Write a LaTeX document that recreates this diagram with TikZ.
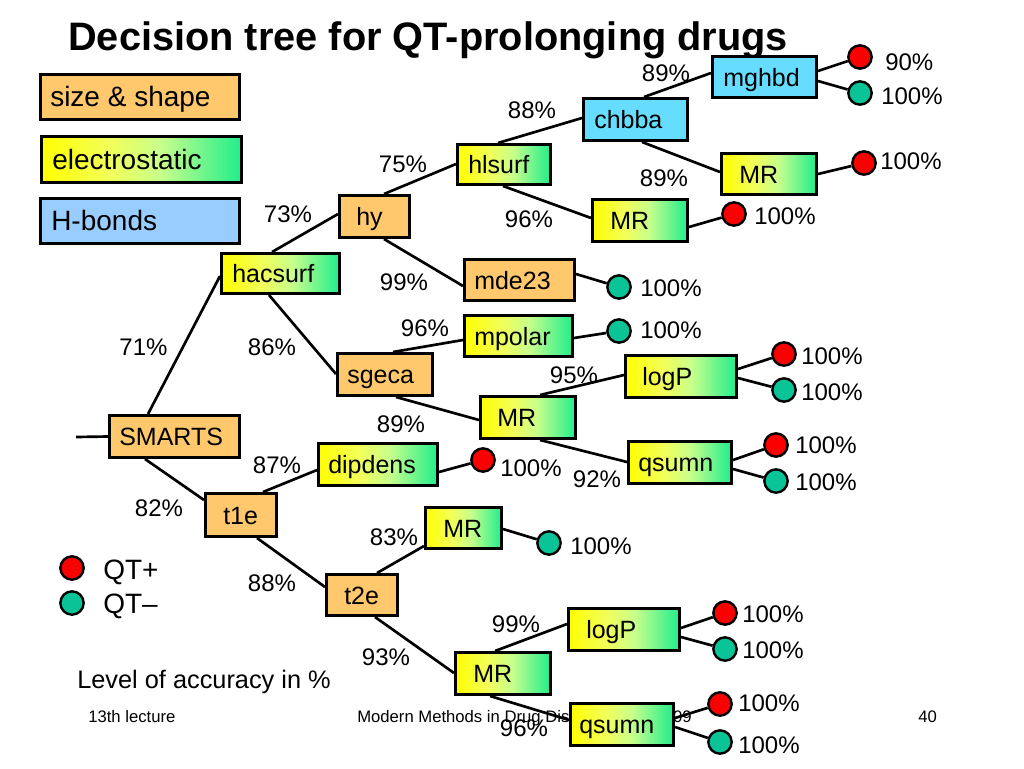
\documentclass[tikz,border=0pt]{standalone}
\usepackage{fontspec}
\setmainfont{Liberation Sans}
\usetikzlibrary{calc}
\definecolor{boxor}{RGB}{255,200,108}
\definecolor{hbond}{RGB}{153,204,255}
\definecolor{cyanb}{RGB}{102,221,255}
\definecolor{qtneg}{RGB}{10,195,150}
\definecolor{qtpos}{RGB}{250,0,0}
\pgfdeclarehorizontalshading{ygr}{100bp}{rgb(0bp)=(1,1,0); rgb(25bp)=(1,1,0); rgb(42bp)=(0.95,1,0.35); rgb(55bp)=(0.78,1,0.55); rgb(75bp)=(0.12,0.93,0.55); rgb(100bp)=(0.12,0.93,0.55)}
\pgfdeclarelayer{bg}
\pgfsetlayers{bg,main}
\tikzset{
  bx/.style={draw=black, line width=2pt, inner sep=0pt},
  org/.style={bx, fill=boxor},
  grd/.style={bx, shade, shading=ygr},
  hbx/.style={bx, fill=hbond},
  cyb/.style={bx, fill=cyanb},
  ntext/.style={inner sep=0pt, font=\fontsize{18.75pt}{21pt}\selectfont},
  ltext/.style={inner sep=0pt, font=\fontsize{21pt}{24pt}\selectfont},
  pct/.style={inner sep=0pt, font=\fontsize{18pt}{20pt}\selectfont},
  foot/.style={inner sep=0pt, anchor=base west, font=\fontsize{12.5pt}{14pt}\selectfont},
  edge/.style={draw=black, line width=2pt},
  circ/.style={circle, draw=black, line width=1.8pt, minimum size=17.5pt, inner sep=0pt},
  qtp/.style={circ, fill=qtpos},
  qtn/.style={circ, fill=qtneg},
}
% style, name, x, y, w, h, pad, text
\newcommand\treebox[8]{%
  \node[#1, minimum width={(#5-2.67)*0.75pt}, minimum height={(#6-2.67)*0.75pt}, anchor=north west] (#2) at (#3,#4) {};
  \node[ntext, anchor=base west] (#2t) at ([shift={(#7,9)}]#2.west) {#8};}
\newcommand\legbox[8]{%
  \node[#1, minimum width={(#5-2.67)*0.75pt}, minimum height={(#6-2.67)*0.75pt}, anchor=north west] (#2) at (#3,#4) {};
  \node[ltext, anchor=base west] (#2t) at ([shift={(#7,9.5)}]#2.west) {#8};}
\newcommand\eln[2]{([shift={#2}]#1.north west)}
\begin{document}
\begin{tikzpicture}[x=0.75pt,y=-0.75pt]
\useasboundingbox (0,0) rectangle (1024,768);

% title
\node[anchor=base west, inner sep=0pt, font=\bfseries\fontsize{29.8pt}{32pt}\selectfont] (title) at (68,50) {Decision tree for QT-prolonging drugs};

% legend boxes
\legbox{org}{lsize}{39}{73}{202}{48}{11}{size \& shape}
\legbox{grd}{lelec}{40}{135}{203}{49}{12}{electrostatic}
\legbox{hbx}{lhb}{39}{197}{202}{48}{12}{H-bonds}

% tree boxes
\treebox{org}{smarts}{108}{414}{133}{45}{11}{SMARTS}
\treebox{grd}{hacsurf}{220}{252}{121}{43}{12}{hacsurf}
\treebox{org}{sgeca}{336}{352}{98}{45}{11}{sgeca}
\treebox{org}{hy}{338}{194}{73}{45}{18}{hy}
\treebox{grd}{hlsurf}{456}{143}{96}{43}{12}{hlsurf}
\treebox{cyb}{chbba}{582}{97}{107}{45}{12}{chbba}
\treebox{cyb}{mghbd}{711}{55}{107}{44}{12}{mghbd}
\treebox{grd}{mra}{720}{152}{98}{44}{19}{MR}
\treebox{grd}{mrb}{591}{198}{98}{45}{19}{MR}
\treebox{org}{mde}{463}{258}{113}{44}{11}{mde23}
\treebox{grd}{mpolar}{463}{314}{111}{44}{11}{mpolar}
\treebox{grd}{mrc}{479}{395}{98}{45}{18}{MR}
\treebox{grd}{logpa}{624}{354}{114}{45}{18}{logP}
\treebox{grd}{qsa}{627}{440}{106}{45}{11}{qsumn}
\treebox{grd}{dipdens}{317}{442}{122}{45}{11}{dipdens}
\treebox{org}{tone}{204}{492}{74}{46}{19}{t1e}
\treebox{org}{ttwo}{325}{573}{74}{44}{19}{t2e}
\treebox{grd}{mrd}{424}{506}{79}{44}{19}{MR}
\treebox{grd}{mre}{454}{651}{98}{45}{19}{MR}
\treebox{grd}{logpb}{567}{607}{114}{45}{19}{logP}
\treebox{grd}{qsb}{569}{702}{106}{45}{10}{qsumn}

% leaves
\node[qtp] (c1) at (860,57) {};
\node[qtn] (c2) at (860,93) {};
\node[qtp] (c3) at (864,163) {};
\node[qtp] (c4) at (734,214) {};
\node[qtn] (c5) at (619,287) {};
\node[qtn] (c6) at (619,331) {};
\node[qtp] (c7) at (784,354) {};
\node[qtn] (c8) at (784,390) {};
\node[qtp] (c9) at (776,445) {};
\node[qtn] (c10) at (776,481) {};
\node[qtp] (c11) at (483,460) {};
\node[qtn] (c12) at (549,543) {};
\node[qtp] (c13) at (725,613) {};
\node[qtn] (c14) at (725,649) {};
\node[qtp] (c15) at (720,704) {};
\node[qtn] (c16) at (720,742) {};

% legend circles
\node[qtp] (lp) at (72,568) {};
\node[qtn] (ln) at (72,603) {};
\node[ltext, anchor=base west] (lpt) at (103,579) {QT+};
\node[ltext, anchor=base west] (lnt) at (103,613) {QT–};
\node[inner sep=0pt, anchor=base west, font=\fontsize{19pt}{21pt}\selectfont] (acc) at (77,688) {Level of accuracy in \%};

\coordinate (in) at (76,437);

\begin{pgfonlayer}{bg}
  \fill[white] (0,0) rectangle (1024,768);
  % footer
  \node[foot] (f1) at (88,722) {13th lecture};
  \node[foot] (f2) at (357,722) {Modern Methods in Drug Discovery WS08/09};
  \node[foot] (f3) at (918,722) {40};
  % connectors
  \draw[edge] (in) -- (smarts.west);
  \draw[edge] \eln{smarts}{(40,0)} -- \eln{hacsurf}{(0,24)};
  \draw[edge] \eln{hacsurf}{(52,0)} -- \eln{hy}{(0,20)};
  \draw[edge] \eln{hy}{(46,0)} -- \eln{hlsurf}{(0,21)};
  \draw[edge] \eln{hlsurf}{(42,0)} -- \eln{chbba}{(0,21)};
  \draw[edge] \eln{chbba}{(62,0)} -- \eln{mghbd}{(0,18)};
  \draw[edge] \eln{chbba}{(60,45)} -- \eln{mra}{(0,20)};
  \draw[edge] \eln{hlsurf}{(47,43)} -- \eln{mrb}{(0,20)};
  \draw[edge] \eln{hy}{(46,45)} -- \eln{mde}{(0,28)};
  \draw[edge] \eln{hacsurf}{(49,43)} -- \eln{sgeca}{(0,22)};
  \draw[edge] \eln{sgeca}{(57,0)} -- \eln{mpolar}{(0,26)};
  \draw[edge] \eln{sgeca}{(60,45)} -- \eln{mrc}{(0,25)};
  \draw[edge] \eln{mrc}{(61,0)} -- \eln{logpa}{(0,21)};
  \draw[edge] \eln{mrc}{(61,45)} -- \eln{qsa}{(0,22)};
  \draw[edge] \eln{smarts}{(37,45)} -- \eln{tone}{(0,8)};
  \draw[edge] \eln{tone}{(59,0)} -- \eln{dipdens}{(0,28)};
  \draw[edge] \eln{tone}{(53,46)} -- \eln{ttwo}{(0,14)};
  \draw[edge] \eln{ttwo}{(52,0)} -- \eln{mrd}{(0,40)};
  \draw[edge] \eln{ttwo}{(50,44)} -- \eln{mre}{(0,22)};
  \draw[edge] \eln{mre}{(41,0)} -- \eln{logpb}{(0,17)};
  \draw[edge] \eln{mre}{(36,45)} -- \eln{qsb}{(0,18)};
  % leaf connectors
  \draw[edge] \eln{mghbd}{(107,16)} -- (c1);
  \draw[edge] \eln{mghbd}{(107,26)} -- (c2);
  \draw[edge] \eln{mra}{(98,22)} -- (c3);
  \draw[edge] \eln{mrb}{(98,29)} -- (c4);
  \draw[edge] \eln{mde}{(113,16)} -- (c5);
  \draw[edge] \eln{mpolar}{(111,24)} -- (c6);
  \draw[edge] \eln{logpa}{(114,15)} -- (c7);
  \draw[edge] \eln{logpa}{(114,24)} -- (c8);
  \draw[edge] \eln{qsa}{(106,20)} -- (c9);
  \draw[edge] \eln{qsa}{(106,29)} -- (c10);
  \draw[edge] \eln{dipdens}{(122,30)} -- (c11);
  \draw[edge] \eln{mrd}{(79,23)} -- (c12);
  \draw[edge] \eln{logpb}{(114,21)} -- (c13);
  \draw[edge] \eln{logpb}{(114,30)} -- (c14);
  \draw[edge] \eln{qsb}{(106,16)} -- (c15);
  \draw[edge] \eln{qsb}{(106,25)} -- (c16);
\end{pgfonlayer}

% edge labels
\node[pct] (p71) at (143.5,347) {71\%};
\node[pct] (p86) at (272,347) {86\%};
\node[pct] (p96a) at (425,328) {96\%};
\node[pct] (p89a) at (401,424) {89\%};
\node[pct] (p87) at (277,465) {87\%};
\node[pct] (p82) at (159,508) {82\%};
\node[pct] (p73) at (288,214) {73\%};
\node[pct] (p75) at (403,164) {75\%};
\node[pct] (p88a) at (532,110) {88\%};
\node[pct] (p89b) at (666,73) {89\%};
\node[pct] (p89c) at (664,178) {89\%};
\node[pct] (p96b) at (529,219) {96\%};
\node[pct] (p99a) at (404,282) {99\%};
\node[pct] (p95) at (574,375) {95\%};
\node[pct] (p92) at (597,479) {92\%};
\node[pct] (p83) at (394,537) {83\%};
\node[pct] (p88b) at (272,583) {88\%};
\node[pct] (p93) at (386,657) {93\%};
\node[pct] (p99b) at (516,624) {99\%};
\node[pct] (p96c) at (524,728) {96\%};

% leaf labels
\node[pct, anchor=west] (r1) at (885,62) {90\%};
\node[pct, anchor=west] (r2) at (881,96) {100\%};
\node[pct, anchor=west] (r3) at (880,161) {100\%};
\node[pct, anchor=west] (r4) at (754,216) {100\%};
\node[pct, anchor=west] (r5) at (640,288) {100\%};
\node[pct, anchor=west] (r6) at (640,330) {100\%};
\node[pct, anchor=west] (r7) at (801,356) {100\%};
\node[pct, anchor=west] (r8) at (801,392) {100\%};
\node[pct, anchor=west] (r9) at (795,445) {100\%};
\node[pct, anchor=west] (r10) at (795,482) {100\%};
\node[pct, anchor=west] (r11) at (500,468) {100\%};
\node[pct, anchor=west] (r12) at (570,546) {100\%};
\node[pct, anchor=west] (r13) at (742,614) {100\%};
\node[pct, anchor=west] (r14) at (742,650) {100\%};
\node[pct, anchor=west] (r15) at (738,703) {100\%};
\node[pct, anchor=west] (r16) at (738,745) {100\%};
\end{tikzpicture}
\end{document}
